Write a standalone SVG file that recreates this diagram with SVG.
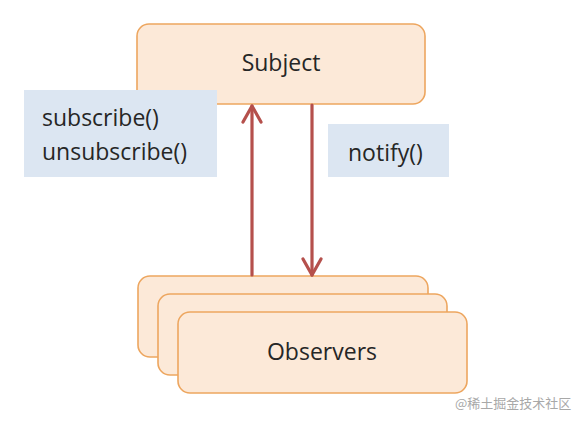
<svg xmlns="http://www.w3.org/2000/svg" width="578" height="422" viewBox="0 0 578 422">
<defs>
<style>
.node{fill:#fce9d8;stroke:#eda65f;stroke-width:1.6}
.lbl{fill:#dce6f2}
.t{font-family:"Open Sans","Liberation Sans",sans-serif;font-size:23px;fill:#262626}
.c{stroke:#b5504c;stroke-width:3.2;fill:none;stroke-linecap:round;stroke-linejoin:round}
.wm{font-family:"Noto Sans CJK SC","Noto Sans",sans-serif;font-size:13px;fill:#a8a8a8}
</style>
<marker id="ah" viewBox="0 0 22 22" refX="18" refY="11" markerWidth="22" markerHeight="22" markerUnits="userSpaceOnUse" orient="auto">
<path d="M2,2 L18,11 L2,20" fill="none" stroke="#b5504c" stroke-width="3.2" stroke-linecap="round" stroke-linejoin="round"/>
</marker>
</defs>
<rect width="578" height="422" fill="#ffffff"/>
<g id="subject">
<rect class="node" x="137" y="24" width="288" height="80" rx="12"/>
<text class="t" x="281" y="71" text-anchor="middle">Subject</text>
</g>
<g id="label-subscribe">
<rect class="lbl" x="24" y="90" width="193" height="87"/>
<text class="t" x="42" y="126">subscribe()</text>
<text class="t" x="42" y="160">unsubscribe()</text>
</g>
<g id="label-notify">
<rect class="lbl" x="328" y="124" width="121" height="53"/>
<text class="t" x="348" y="161">notify()</text>
</g>
<g id="observers">
<rect class="node" x="138" y="276" width="290" height="81" rx="12"/>
<rect class="node" x="158" y="294" width="289" height="81" rx="12"/>
<rect class="node" x="178" y="312" width="289" height="81" rx="12"/>
<text class="t" x="322" y="360" text-anchor="middle">Observers</text>
</g>
<g id="connectors">
<line class="c" x1="252" y1="275" x2="252" y2="106" marker-end="url(#ah)"/>
<line class="c" x1="312" y1="105" x2="312" y2="275" marker-end="url(#ah)"/>
</g>
<text class="wm" x="455" y="408">@稀土掘金技术社区</text>
</svg>
